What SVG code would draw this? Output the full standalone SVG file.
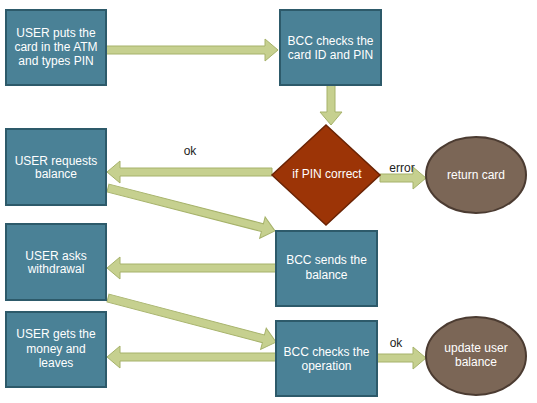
<svg xmlns="http://www.w3.org/2000/svg" width="537" height="403" viewBox="0 0 537 403">
<style>
.box{fill:#4A8196;stroke:#2D5A6A;stroke-width:2}
.dia{fill:#9C3406;stroke:#6A2304;stroke-width:1.5}
.ell{fill:#7B6656;stroke:#4B3B31;stroke-width:2}
.arr{fill:#C6D08F;stroke:#A6B26A;stroke-width:1}
.t{font-family:"Liberation Sans",Arial,sans-serif;font-size:12px;fill:#fff;text-anchor:middle}
.l{font-family:"Liberation Sans",Arial,sans-serif;font-size:12px;fill:#222;text-anchor:middle}
</style>
<rect width="537" height="403" fill="#fff"/>
<g id="connectors">
<path class="arr" d="M106,46 H265 V39 L278,50 L265,61 V54 H106 Z"/>
<path class="arr" d="M327,85 H335 V112 H342 L331,125 L320,112 H327 Z"/>
<path class="arr" d="M272,168 H120 V161 L107,172 L120,183 V176 H272 Z"/>
<path class="arr" d="M380,174 H413 V167 L426,178 L413,189 V182 H380 Z"/>
<path class="arr" transform="translate(108,188) rotate(14.4)" d="M0,-4 H159.4 V-11 L172.4,0 L159.4,11 V4 H0 Z"/>
<path class="arr" d="M276,264 H120 V257 L107,268 L120,279 V272 H276 Z"/>
<path class="arr" transform="translate(108,298) rotate(14.7)" d="M0,-4 H160.7 V-11 L173.7,0 L160.7,11 V4 H0 Z"/>
<path class="arr" d="M276,353 H120 V346 L107,357 L120,368 V361 H276 Z"/>
<path class="arr" d="M377,354 H413 V347 L426,358 L413,369 V362 H377 Z"/>
<text class="l" x="190" y="155">ok</text>
<text class="l" x="402" y="172">error</text>
<text class="l" x="396" y="347">ok</text>
</g>
<g id="n1"><rect class="box" x="6" y="10" width="100" height="75"/>
<text class="t" x="56" y="37">USER puts the</text><text class="t" x="56" y="51">card in the ATM</text><text class="t" x="56" y="65">and types PIN</text></g>
<g id="n2"><rect class="box" x="280" y="10" width="101" height="75"/>
<text class="t" x="330.5" y="45">BCC checks the</text><text class="t" x="330.5" y="59">card ID and PIN</text></g>
<g id="n3"><path class="dia" d="M326,125 L380,175 L326,225 L272,175 Z"/>
<text class="t" x="327" y="178">if PIN correct</text></g>
<g id="n4"><ellipse class="ell" cx="476" cy="175" rx="50" ry="38"/>
<text class="t" x="476" y="179">return card</text></g>
<g id="n5"><rect class="box" x="6" y="129" width="100" height="76"/>
<text class="t" x="56" y="165">USER requests</text><text class="t" x="56" y="178">balance</text></g>
<g id="n6"><rect class="box" x="276" y="231" width="101" height="75"/>
<text class="t" x="326.5" y="264">BCC sends the</text><text class="t" x="326.5" y="279">balance</text></g>
<g id="n7"><rect class="box" x="6" y="224" width="100" height="76"/>
<text class="t" x="56" y="260">USER asks</text><text class="t" x="56" y="273">withdrawal</text></g>
<g id="n8"><rect class="box" x="6" y="312" width="100" height="75"/>
<text class="t" x="56" y="338">USER gets the</text><text class="t" x="56" y="353">money and</text><text class="t" x="56" y="367">leaves</text></g>
<g id="n9"><rect class="box" x="276" y="321" width="101" height="75"/>
<text class="t" x="326.5" y="356">BCC checks the</text><text class="t" x="326.5" y="370">operation</text></g>
<g id="n10"><ellipse class="ell" cx="476" cy="356" rx="50" ry="39"/>
<text class="t" x="476" y="352">update user</text><text class="t" x="476" y="366">balance</text></g>
</svg>
